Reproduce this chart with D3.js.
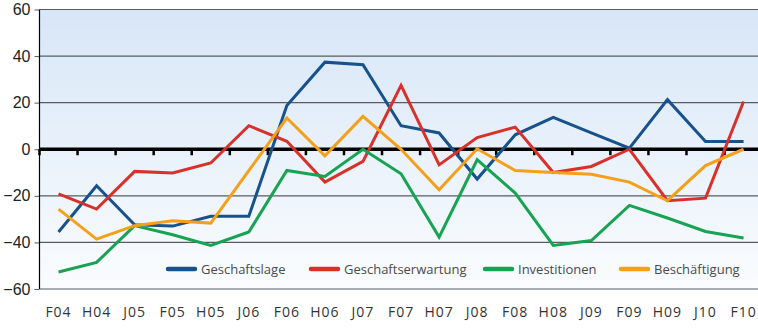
<!DOCTYPE html>
<html>
<head>
<meta charset="utf-8">
<script src="https://cdn.jsdelivr.net/npm/d3@7"></script>
<style>
  body { margin: 0; background: #fff; }
  svg { display: block; }
</style>
</head>
<body>
<div id="chart"></div>
<script>
// data
var periods = ["F04","H04","J05","F05","H05","J06","F06","H06","J07","F07","H07","J08","F08","H08","J09","F09","H09","J10","F10"];
var lage = [-35.5,-15.7,-32.4,-33,-28.8,-28.8,18.8,37.4,36.3,10.1,7,-12.8,6.2,13.7,7,0.5,21.3,3.3,3.3];
var erwartung = [-19.2,-25.7,-9.5,-10.2,-5.9,10.1,3.4,-14.1,-5.2,27.4,-6.7,5,9.5,-10,-7.4,0,-22.1,-21,20.5];
var investitionen = [-52.7,-48.6,-32.8,-36.7,-41.3,-35.5,-9.1,-11.7,0,-10.5,-37.7,-4.5,-18.8,-41.3,-39.2,-24.1,-29.5,-35.3,-38.1];
var beschaeftigung = [-25.7,-38.6,-32.8,-30.7,-31.7,-9.2,13.4,-2.8,14.1,0,-17.4,0.2,-9.1,-10,-10.7,-14.1,-22.1,-7,0];
var seriesNames = ["Geschaftslage","Geschaftserwartung","Investitionen","Beschäftigung"];
var seriesColors = ["#17528c","#d9302a","#17a352","#f5a01a"];
var yTicks = [-60,-40,-20,0,20,40,60];

var series = [lage, erwartung, investitionen, beschaeftigung].map(function(vals, i) {
  return { name: seriesNames[i], color: seriesColors[i], values: vals };
});

var svgWidth = 758, svgHeight = 328;
var plot = { left: 39.5, top: 9.5, bottom: 289, right: 762.6 };

var svg = d3.select("#chart").append("svg")
    .attr("width", svgWidth).attr("height", svgHeight);

var x = d3.scaleBand().domain(periods).range([plot.left, plot.right]);
var y = d3.scaleLinear().domain([-60, 60]).range([plot.bottom, plot.top]);

//background gradient
var grad = svg.append("defs").append("linearGradient")
    .attr("id", "bg").attr("x1", 0).attr("y1", 0).attr("x2", 0).attr("y2", 1);
grad.append("stop").attr("offset", "0%").attr("stop-color", "#d7e6f7");
grad.append("stop").attr("offset", "100%").attr("stop-color", "#fafcfe");

svg.append("rect")
    .attr("x", plot.left).attr("y", plot.top)
    .attr("width", svgWidth - plot.left).attr("height", plot.bottom - plot.top)
    .attr("fill", "url(#bg)");

//grid lines
svg.append("g").selectAll("line")
  .data(yTicks.filter(function(d) { return d !== 0; }))
  .enter().append("line")
    .attr("x1", plot.left).attr("x2", svgWidth)
    .attr("y1", function(d) { return y(d); })
    .attr("y2", function(d) { return y(d); })
    .attr("stroke", "#575c63").attr("stroke-width", 1.2);

//y axis
var yAxis = d3.axisLeft(y).tickValues(yTicks).tickSize(5).tickPadding(4);
var gy = svg.append("g").attr("transform", "translate(" + plot.left + ",0)").call(yAxis);
gy.select(".domain").remove();
gy.selectAll(".tick line").attr("stroke", "#575c63");
gy.selectAll("text")
    .attr("font-family", "Liberation Sans, Arial, sans-serif")
    .attr("font-size", "16px").attr("fill", "#222");
svg.append("line")
    .attr("x1", plot.left).attr("x2", plot.left).attr("y1", plot.top).attr("y2", plot.bottom)
    .attr("stroke", "#000").attr("stroke-width", 1.2);

//zero line with ticks on band edges
var edges = periods.map(function(p) { return x(p); });
svg.append("g").selectAll("line")
  .data(edges)
  .enter().append("line")
    .attr("x1", function(d) { return d; }).attr("x2", function(d) { return d; })
    .attr("y1", y(0)).attr("y2", y(0) + 6)
    .attr("stroke", "#000").attr("stroke-width", 2.5);
svg.append("line")
    .attr("x1", plot.left).attr("x2", svgWidth)
    .attr("y1", y(0)).attr("y2", y(0))
    .attr("stroke", "#000").attr("stroke-width", 3.5);

//x labels
svg.append("g").selectAll("text")
  .data(periods)
  .enter().append("text")
    .attr("x", function(d) { return x(d) + x.bandwidth() / 2; })
    .attr("y", 317)
    .attr("text-anchor", "middle")
    .attr("font-family", "Open Sans, sans-serif")
    .attr("font-size", "14px")
    .attr("letter-spacing", "1px")
    .attr("fill", "#333")
    .text(function(d) { return d; });

//lines
var line = d3.line()
    .x(function(d, i) { return x(periods[i]) + x.bandwidth() / 2; })
    .y(function(d) { return y(d); });

svg.append("g").selectAll("path")
  .data(series)
  .enter().append("path")
    .attr("d", function(s) { return line(s.values); })
    .attr("fill", "none")
    .attr("stroke", function(s) { return s.color; })
    .attr("stroke-width", 3)
    .attr("stroke-linejoin", "miter");

//legend
var legendX = [168, 311, 485, 621];
var legend = svg.append("g").selectAll("g")
  .data(series)
  .enter().append("g")
    .attr("transform", function(s, i) { return "translate(" + legendX[i] + ",269)"; });
legend.append("line")
    .attr("x1", 0).attr("x2", 27).attr("y1", 0).attr("y2", 0)
    .attr("stroke", function(s) { return s.color; })
    .attr("stroke-width", 4.5).attr("stroke-linecap", "round");
legend.append("text")
    .attr("x", 33).attr("y", 5)
    .attr("font-family", "Open Sans, sans-serif")
    .attr("font-size", "13px")
    .attr("fill", "#4a4a4a")
    .text(function(s) { return s.name; });
</script>
</body>
</html>
